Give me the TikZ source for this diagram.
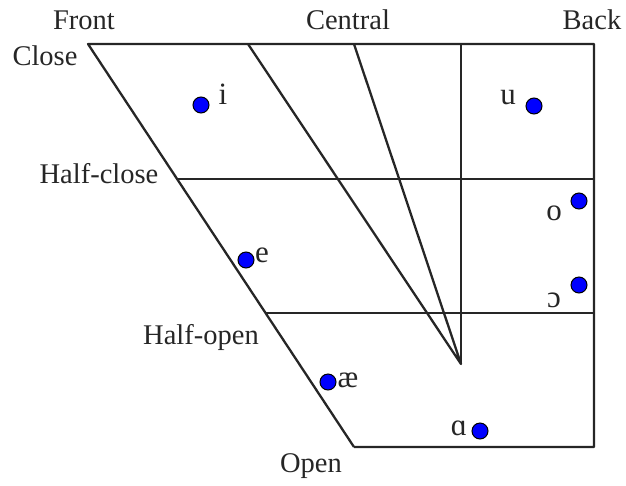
\documentclass[tikz,border=0pt]{standalone}
\usepackage{fontspec}
\setmainfont{Liberation Serif}
\begin{document}
\begin{tikzpicture}[x=1pt,y=-1pt,
  edge/.style={draw=black!85, line width=2.3pt, line join=round},
  vdot/.style={circle, fill={rgb,255:red,0;green,0;blue,255}, draw=black, line width=1pt, minimum size=16pt, inner sep=0pt},
  lbl/.style={font=\fontsize{28.5}{32}\selectfont, text=black!85, inner sep=0pt},
  sym/.style={font=\fontsize{31}{34}\selectfont, text=black!85, inner sep=0pt}]
\useasboundingbox (0,0) rectangle (626,485);
% corners
\coordinate (TL) at (88,44);
\coordinate (TR) at (594,44);
\coordinate (BR) at (594,447);
\coordinate (BL) at (354,447);
\coordinate (HCl) at (177,179);
\coordinate (HCr) at (594,179);
\coordinate (HOl) at (266,313);
\coordinate (HOr) at (594,313);
\coordinate (C1) at (248,44);
\coordinate (C2) at (354,44);
\coordinate (C3) at (461,44);
\coordinate (apex) at (461,364);
% frame
\draw[edge] (BL) -- (TL) -- (TR) -- (BR) -- (BL);
\draw[edge] (HCl) -- (HCr);
\draw[edge] (HOl) -- (HOr);
\draw[edge] (C1) -- (apex) -- (C2);
\draw[edge] (C3) -- (apex);
% axis labels
\node[lbl] (front) at (84,20) {Front};
\node[lbl] (central) at (348,20) {Central};
\node[lbl] (back) at (592,20) {Back};
\node[lbl] (close) at (45,56) {Close};
\node[lbl] (hclose) at (99,174) {Half-close};
\node[lbl] (hopen) at (201,337) {Half-open};
\node[lbl] (open) at (311,466) {Open};
% vowels
\node[vdot] (di) at (201,105) {};
\node[sym] (ti) at (223,94) {i};
\node[vdot] (du) at (534,106) {};
\node[sym] (tu) at (508,98) {u};
\node[vdot] (do) at (579,201) {};
\node[sym] (to) at (554,213) {o};
\node[vdot] (doo) at (579,285) {};
\node[sym] (too) at (554,300) {ɔ};
\node[vdot] (de) at (246,260) {};
\node[sym] (te) at (262,255) {e};
\node[vdot] (dae) at (328,382) {};
\node[sym] (tae) at (348,380) {æ};
\node[vdot] (da) at (480,431) {};
\node[sym] (ta) at (459,428) {ɑ};
\end{tikzpicture}
\end{document}
